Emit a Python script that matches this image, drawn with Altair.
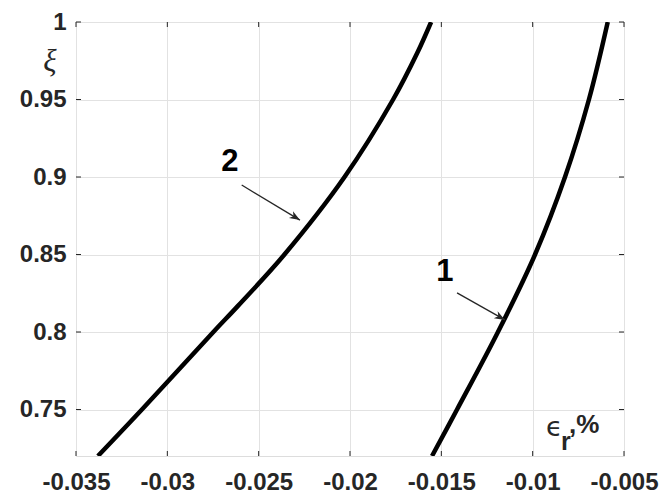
import altair as alt
import pandas as pd

# Curve 1
xi_1 = [0.72, 0.75, 0.80, 0.85, 0.90, 0.95, 1.00]
eps_1 = [-0.01551, -0.01414, -0.01190, -0.00987, -0.00823, -0.00692, -0.00589]

# Curve 2
xi_2 = [0.72, 0.75, 0.80, 0.817, 0.85, 0.90, 0.95, 0.98, 1.00]
eps_2 = [-0.03380, -0.03139, -0.02748, -0.02612, -0.02359, -0.02030, -0.01764, -0.01632, -0.01556]

# Axis ticks
x_ticks = [-0.035, -0.03, -0.025, -0.02, -0.015, -0.01, -0.005]
y_ticks = [0.75, 0.8, 0.85, 0.9, 0.95, 1.0]

# Curve labels and their arrows (start -> tip)
lbl_text = ["1", "2"]
lbl_x = [-0.01480, -0.02657]
lbl_y = [0.8388, 0.9096]
arr_x0 = [-0.01414, -0.02593]
arr_y0 = [0.8252, 0.8948]
arr_x1 = [-0.01152, -0.02274]
arr_y1 = [0.8078, 0.8722]
arr_angle = [29, 31]

W, H = 548, 434
FONT = "Liberation Sans"
DARK = "#262626"

x_scale = alt.Scale(domain=[-0.035, -0.005], nice=False, zero=False)
y_scale = alt.Scale(domain=[0.72, 1.0], nice=False, zero=False)

curves = pd.DataFrame(
    {"eps": eps_1 + eps_2, "xi": xi_1 + xi_2,
     "curve": ["1"] * len(xi_1) + ["2"] * len(xi_2)}
)

x_axis = alt.Axis(
    values=x_ticks, labelExpr="replace(format(datum.value, '.3~f'), '\u2212', '-')",
    title=None, domain=False, ticks=False, grid=True, gridColor="#e2e2e2",
    labelFont=FONT, labelFontSize=24, labelFontWeight="bold", labelColor=DARK,
    labelPadding=14, labelFlush=False,
)
y_axis = alt.Axis(
    values=y_ticks, format=".2~f",
    title=None, domain=False, ticks=False, grid=True, gridColor="#e2e2e2",
    labelFont=FONT, labelFontSize=24, labelFontWeight="bold", labelColor=DARK,
    labelPadding=10, labelFlush=False,
)

lines = alt.Chart(curves).mark_line(
    color="black", strokeWidth=4.5, interpolate="catmull-rom", clip=True
).encode(
    x=alt.X("eps:Q", scale=x_scale, axis=x_axis),
    y=alt.Y("xi:Q", scale=y_scale, axis=y_axis),
    order="xi:Q",
    detail="curve:N",
)

# Inward tick marks on all four sides
xt = pd.DataFrame({"t": x_ticks})
yt = pd.DataFrame({"t": y_ticks})
tick_style = dict(color=DARK, strokeWidth=1)
ticks_bottom = alt.Chart(xt).mark_rule(**tick_style).encode(
    x=alt.X("t:Q", scale=x_scale), y=alt.value(H), y2=alt.value(H - 5))
ticks_top = alt.Chart(xt).mark_rule(**tick_style).encode(
    x=alt.X("t:Q", scale=x_scale), y=alt.value(0), y2=alt.value(5))
ticks_left = alt.Chart(yt).mark_rule(**tick_style).encode(
    y=alt.Y("t:Q", scale=y_scale), x=alt.value(0), x2=alt.value(5))
ticks_right = alt.Chart(yt).mark_rule(**tick_style).encode(
    y=alt.Y("t:Q", scale=y_scale), x=alt.value(W), x2=alt.value(W - 5))

ann = pd.DataFrame({
    "text": lbl_text, "lx": lbl_x, "ly": lbl_y,
    "x0": arr_x0, "y0": arr_y0, "x1": arr_x1, "y1": arr_y1, "ang": arr_angle,
})

labels = alt.Chart(ann).mark_text(
    font=FONT, fontSize=31, fontWeight="bold", color="black",
    align="center", baseline="middle",
).encode(
    x=alt.X("lx:Q", scale=x_scale), y=alt.Y("ly:Q", scale=y_scale), text="text:N")

arrows = alt.Chart(ann).mark_rule(color=DARK, strokeWidth=1.3).encode(
    x=alt.X("x0:Q", scale=x_scale), y=alt.Y("y0:Q", scale=y_scale),
    x2="x1:Q", y2="y1:Q")

heads = alt.Chart(ann).mark_point(
    shape="M0,0 L-1,-0.38 L-0.72,0 L-1,0.38 Z",
    filled=True, color=DARK, opacity=1, size=440,
).encode(
    x=alt.X("x1:Q", scale=x_scale), y=alt.Y("y1:Q", scale=y_scale),
    angle=alt.Angle("ang:Q", scale=None))

# Axis names
xi_name = alt.Chart(pd.DataFrame({"s": ["ξ"]})).mark_text(
    font="Liberation Serif", fontStyle="italic", fontSize=31, color=DARK,
    align="center", baseline="middle",
).encode(x=alt.value(-26), y=alt.value(40), text="s:N")

eps_sym = alt.Chart(pd.DataFrame({"s": ["ϵ"]})).mark_text(
    font="DejaVu Sans", fontSize=27, color=DARK, align="left", baseline="alphabetic",
).encode(x=alt.value(470), y=alt.value(414), text="s:N")
eps_sub = alt.Chart(pd.DataFrame({"s": ["r"]})).mark_text(
    font=FONT, fontSize=25, fontWeight="bold", color=DARK, align="left", baseline="alphabetic",
).encode(x=alt.value(485), y=alt.value(428), text="s:N")
eps_unit = alt.Chart(pd.DataFrame({"s": [",%"]})).mark_text(
    font=FONT, fontSize=26, fontWeight="bold", color=DARK, align="left", baseline="alphabetic",
).encode(x=alt.value(493), y=alt.value(411), text="s:N")

chart = alt.layer(
    lines, ticks_bottom, ticks_top, ticks_left, ticks_right,
    arrows, heads, labels, xi_name, eps_sym, eps_sub, eps_unit,
).properties(
    width=W, height=H,
    autosize=alt.AutoSizeParams(type="none"),
    padding={"left": 76, "top": 22, "right": 43, "bottom": 42},
).configure_view(
    stroke=DARK, strokeWidth=1.3
).configure(background="white")

chart.save("out.html", embed_options={"renderer": "svg", "actions": False})
